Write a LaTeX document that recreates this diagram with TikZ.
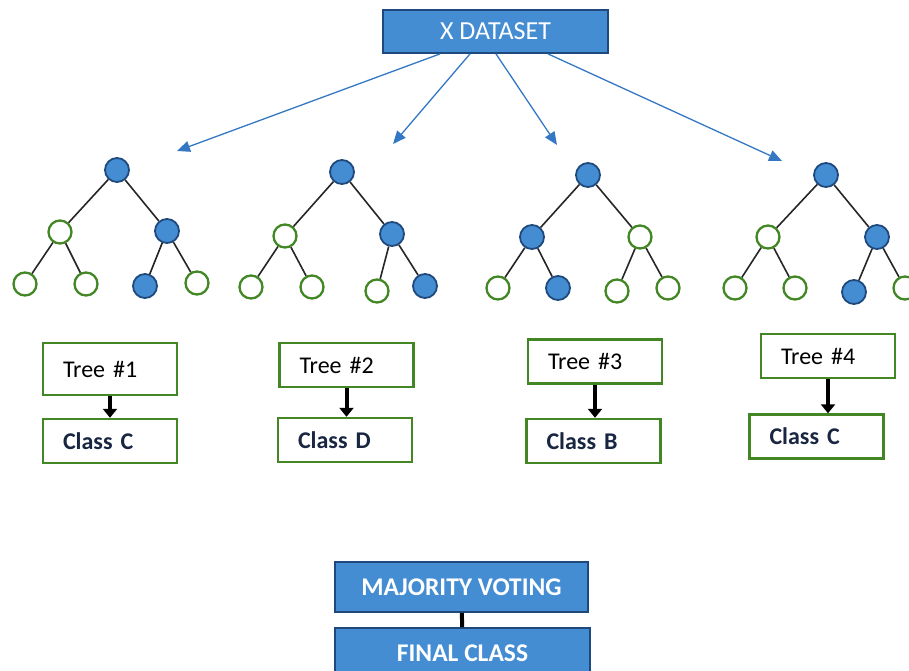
\documentclass[tikz,border=0pt]{standalone}
\usepackage{fontspec}
\setmainfont{Carlito}
\usetikzlibrary{arrows.meta,calc}

\definecolor{boxblue}{RGB}{68,141,210}
\definecolor{rimblue}{RGB}{31,73,125}
\definecolor{arrowblue}{RGB}{52,120,196}
\definecolor{leafgreen}{RGB}{66,135,36}
\definecolor{classnavy}{RGB}{25,38,66}

\tikzset{
  bluenode/.style={circle,draw=rimblue,fill=boxblue,line width=1.8pt,minimum size=24pt,inner sep=0pt},
  greennode/.style={circle,draw=leafgreen,fill=white,line width=2.3pt,minimum size=23pt,inner sep=0pt},
  branch/.style={black!85,line width=1.6pt},
  bluebox/.style={draw=rimblue,fill=boxblue,line width=1.8pt,text=white,inner sep=0pt,
    font=\fontsize{26}{29}\selectfont},
  greenbox/.style={draw=leafgreen,fill=white,line width=2.4pt,minimum height=44pt,
    text width=94pt,inner xsep=20pt,align=left,font=\fontsize{24}{27}\selectfont},
  classbox/.style={greenbox,text=classnavy,font=\fontsize{24}{27}\selectfont\bfseries},
  splitarrow/.style={arrowblue,line width=1.3pt,-{Triangle[length=13pt,width=11pt]}},
  votearrow/.style={black,line width=4pt,-{Triangle[length=9pt,width=14pt]}}
}

\begin{document}
\begin{tikzpicture}[x=1pt,y=-1pt]
\useasboundingbox (0,0) rectangle (909,671);

% dataset
\node[bluebox,minimum width=225pt,minimum height=43pt] (data) at (495.5,31.5) {X DATASET};

% tree 1
\node[bluenode]  (t1r)  at (117,170) {};
\node[greennode] (t1a)  at (60,232) {};
\node[bluenode]  (t1b)  at (167,231) {};
\node[greennode] (t1aa) at (25,284) {};
\node[greennode] (t1ab) at (86,284) {};
\node[bluenode]  (t1ba) at (145,286) {};
\node[greennode] (t1bb) at (197,283) {};

% tree 2
\node[bluenode]  (t2r)  at (342,172) {};
\node[greennode] (t2a)  at (285,236) {};
\node[bluenode]  (t2b)  at (392,234) {};
\node[greennode] (t2aa) at (251,287) {};
\node[greennode] (t2ab) at (312,287) {};
\node[greennode] (t2ba) at (377,291) {};
\node[bluenode]  (t2bb) at (425,286) {};

% tree 3
\node[bluenode]  (t3r)  at (588,175) {};
\node[bluenode]  (t3a)  at (532,237) {};
\node[greennode] (t3b)  at (640,237) {};
\node[greennode] (t3aa) at (498,288) {};
\node[bluenode]  (t3ab) at (558,288) {};
\node[greennode] (t3ba) at (617,291) {};
\node[greennode] (t3bb) at (668,288) {};

% tree 4
\node[bluenode]  (t4r)  at (826,175) {};
\node[greennode] (t4a)  at (768,237) {};
\node[bluenode]  (t4b)  at (877,237) {};
\node[greennode] (t4aa) at (735,288) {};
\node[greennode] (t4ab) at (795,288) {};
\node[bluenode]  (t4ba) at (854,292) {};
\node[greennode] (t4bb) at (905,288) {};

\foreach \t in {1,...,4}
  \foreach \p/\c in {r/a,r/b,a/aa,a/ab,b/ba,b/bb}
    \draw[branch] (t\t\p) -- (t\t\c);

% split arrows
\coordinate (s1) at (177,151);
\coordinate (s2) at (393,144);
\coordinate (s3) at (557,145);
\coordinate (s4) at (782,161);
\draw[splitarrow] ($(data.south)+(-55.5,0)$) -- (s1);
\draw[splitarrow] ($(data.south)+(-25.5,0)$) -- (s2);
\draw[splitarrow] ($(data.south)+(0.5,0)$) -- (s3);
\draw[splitarrow] ($(data.south)+(52.5,0)$) -- (s4);

% tree and class boxes
\node[greenbox,minimum height=52pt] (tree1) at (110,369) {Tree \#1};
\node[classbox] (class1) at (110,441) {Class C};
\node[greenbox] (tree2) at (346.5,365) {Tree \#2};
\node[classbox] (class2) at (345,440) {Class D};
\node[greenbox] (tree3) at (595,361.5) {Tree \#3};
\node[classbox] (class3) at (593.5,441) {Class B};
\node[greenbox] (tree4) at (828,356) {Tree \#4};
\node[classbox] (class4) at (816.5,436.5) {Class C};

\foreach \i in {1,...,4}
  \draw[votearrow] (tree\i.south) -- (tree\i.south |- class\i.north);

% voting
\node[bluebox,minimum width=253pt,minimum height=50pt,font=\fontsize{25.5}{28}\selectfont\bfseries] (vote) at (461.5,587) {MAJORITY VOTING};
\node[bluebox,minimum width=255pt,minimum height=50pt,font=\fontsize{25.5}{28}\selectfont\bfseries] (final) at (462.5,653) {FINAL CLASS};
\draw[black,line width=4pt] (vote) -- (final);

\end{tikzpicture}
\end{document}
